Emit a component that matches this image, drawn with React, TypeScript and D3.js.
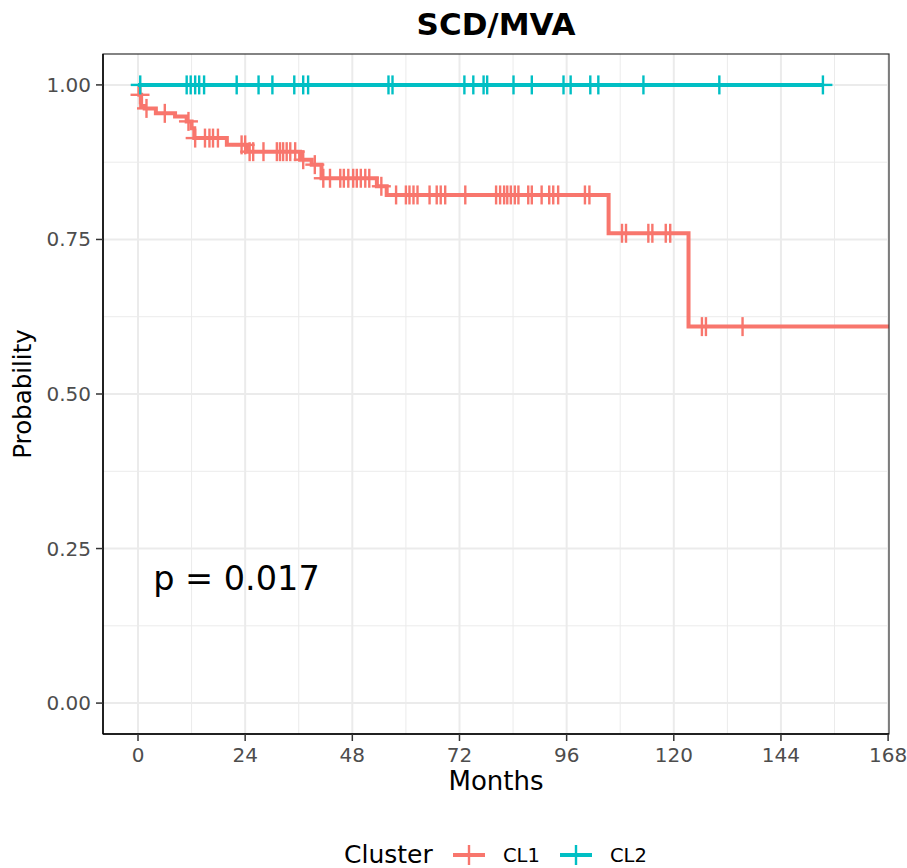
import React from "react";
import * as d3 from "d3";

// Kaplan–Meier step data: event times (months) and survival level after each event
const cl1EventTimes = [0.3, 0.7, 1.5, 4.0, 8.3, 10.9, 12.0, 12.6, 19.9, 24.4, 36.3, 38.9, 41.1, 53.5, 55.7, 105.4, 123.3];
const cl1Levels = [0.984, 0.966, 0.962, 0.954, 0.949, 0.941, 0.930, 0.914, 0.903, 0.892, 0.879, 0.871, 0.849, 0.836, 0.822, 0.760, 0.609];
const cl1Censored = [
  0.45, 1.9, 6.0, 11.3, 12.8, 15.0, 16.0, 16.8, 17.9, 23.2, 24.0, 25.0, 25.8, 28.1,
  31.1, 31.8, 32.5, 33.3, 34.1, 35.2, 37.0, 39.6, 41.5, 43.0, 45.3, 46.1, 47.1, 48.2,
  49.0, 49.9, 50.9, 51.8, 54.5, 57.8, 60.0, 60.8, 61.7, 62.6, 65.3, 66.9, 67.8, 68.8,
  73.3, 80.2, 81.1, 82.0, 82.7, 83.5, 84.4, 85.2, 87.4, 88.2, 90.4, 92.1, 93.0, 94.1,
  100.1, 101.1, 108.4, 109.3, 114.3, 115.2, 118.2, 119.2, 126.3, 127.2, 135.4,
];
const cl1LastTime = 172;

const cl2EventTimes: number[] = [];
const cl2Levels: number[] = [];
const cl2Censored = [
  0.5, 10.9, 11.8, 12.8, 13.7, 14.8, 22.1, 27.0, 30.1, 35.0, 37.0, 38.1, 56.1, 57.0,
  73.1, 75.1, 77.4, 78.2, 84.1, 88.2, 95.3, 96.9, 101.3, 103.1, 113.2, 130.2, 153.4,
];
const cl2LastTime = 153.4;

const xTicks = [0, 24, 48, 72, 96, 120, 144, 168];
const yTicks = [0, 0.25, 0.5, 0.75, 1.0];
const clusterNames = ["CL1", "CL2"];
const clusterColors = ["#F8766D", "#00BFC4"];

const W = 907;
const H = 868;
const panel = { left: 103, right: 889, top: 54, bottom: 734 };
const FONT = "DejaVu Sans, sans-serif";

const x = d3.scaleLinear().domain([-7.84, 168.2]).range([panel.left, panel.right]);
const y = d3.scaleLinear().domain([-0.05, 1.05]).range([panel.bottom, panel.top]);

type Series = { times: number[]; levels: number[]; censored: number[]; last: number; color: string };

const series: Series[] = [
  { times: cl1EventTimes, levels: cl1Levels, censored: cl1Censored, last: cl1LastTime, color: clusterColors[0] },
  { times: cl2EventTimes, levels: cl2Levels, censored: cl2Censored, last: cl2LastTime, color: clusterColors[1] },
];

function survivalAt(s: Series, t: number): number {
  let v = 1;
  s.times.forEach((et, i) => {
    if (et <= t) v = s.levels[i];
  });
  return v;
}

const stepLine = d3
  .line<[number, number]>()
  .x((d) => x(d[0]))
  .y((d) => y(d[1]))
  .curve(d3.curveStepAfter);

function pathFor(s: Series): string {
  const pts: [number, number][] = [[0, 1]];
  s.times.forEach((t, i) => pts.push([t, s.levels[i]]));
  pts.push([s.last, survivalAt(s, s.last)]);
  return stepLine(pts) || "";
}

const minorX = xTicks.slice(0, -1).map((t) => t + 12);
const minorY = yTicks.slice(0, -1).map((t) => t + 0.125);

const CROSS = 9.5;

function Cross({ cx, cy, color }: { cx: number; cy: number; color: string }) {
  return (
    <g stroke={color} strokeWidth={2.4}>
      <line x1={cx - CROSS} x2={cx + CROSS} y1={cy} y2={cy} />
      <line x1={cx} x2={cx} y1={cy - CROSS} y2={cy + CROSS} />
    </g>
  );
}

export default function App() {
  return (
    <svg width={W} height={H} style={{ display: "block", position: "absolute", left: 0, top: 0 }} fontFamily={FONT}>
      <rect width={W} height={H} fill="#ffffff" />
      <defs>
        <clipPath id="panel-clip">
          <rect x={panel.left} y={panel.top} width={panel.right - panel.left} height={panel.bottom - panel.top} />
        </clipPath>
      </defs>

      {/* grid */}
      {minorX.map((t) => (
        <line key={"mx" + t} x1={x(t)} x2={x(t)} y1={panel.top} y2={panel.bottom} stroke="#ebebeb" strokeWidth={1} />
      ))}
      {minorY.map((t) => (
        <line key={"my" + t} x1={panel.left} x2={panel.right} y1={y(t)} y2={y(t)} stroke="#ebebeb" strokeWidth={1} />
      ))}
      {xTicks.map((t) => (
        <line key={"gx" + t} x1={x(t)} x2={x(t)} y1={panel.top} y2={panel.bottom} stroke="#ebebeb" strokeWidth={2} />
      ))}
      {yTicks.map((t) => (
        <line key={"gy" + t} x1={panel.left} x2={panel.right} y1={y(t)} y2={y(t)} stroke="#ebebeb" strokeWidth={2} />
      ))}

      {/* survival curves */}
      <g clipPath="url(#panel-clip)">
        {series.map((s, i) => (
          <g key={i}>
            <path d={pathFor(s)} fill="none" stroke={s.color} strokeWidth={4} />
            {s.censored.map((t, j) => (
              <Cross key={j} cx={x(t)} cy={y(survivalAt(s, t))} color={s.color} />
            ))}
          </g>
        ))}
      </g>

      {/* panel border and axes */}
      <rect
        x={panel.left}
        y={panel.top}
        width={panel.right - panel.left}
        height={panel.bottom - panel.top}
        fill="none"
        stroke="#333333"
        strokeWidth={1.2}
      />
      <line x1={panel.left} x2={panel.left} y1={panel.top} y2={panel.bottom} stroke="#000" strokeWidth={1.5} />
      <line x1={panel.left} x2={panel.right} y1={panel.bottom} y2={panel.bottom} stroke="#000" strokeWidth={1.5} />

      {xTicks.map((t) => (
        <g key={"xt" + t}>
          <line x1={x(t)} x2={x(t)} y1={panel.bottom} y2={panel.bottom + 7} stroke="#333" strokeWidth={1.5} />
          <text x={x(t)} y={panel.bottom + 28} textAnchor="middle" fontSize={20} fill="#4d4d4d">
            {t}
          </text>
        </g>
      ))}
      {yTicks.map((t) => (
        <g key={"yt" + t}>
          <line x1={panel.left - 7} x2={panel.left} y1={y(t)} y2={y(t)} stroke="#333" strokeWidth={1.5} />
          <text x={panel.left - 12} y={y(t)} dy="0.35em" textAnchor="end" fontSize={20} fill="#4d4d4d">
            {t.toFixed(2)}
          </text>
        </g>
      ))}

      {/* titles */}
      <text x={(panel.left + panel.right) / 2} y={35} textAnchor="middle" fontSize={31} fontWeight="bold" fill="#000">
        SCD/MVA
      </text>
      <text x={(panel.left + panel.right) / 2} y={790} textAnchor="middle" fontSize={26} fill="#000">
        Months
      </text>
      <text
        transform={`translate(31, ${(panel.top + panel.bottom) / 2}) rotate(-90)`}
        textAnchor="middle"
        fontSize={24.5}
        fill="#000"
      >
        Probability
      </text>

      {/* p-value annotation */}
      <text x={x(3.4)} y={y(0.21) + 17} fontSize={33.5} fill="#000">
        p = 0.017
      </text>

      {/* legend */}
      <g>
        <text x={344} y={863} fontSize={25} fill="#000">
          Cluster
        </text>
        {clusterNames.map((name, i) => {
          const kx = 453 + i * 107;
          return (
            <g key={name}>
              <line x1={kx} x2={kx + 32} y1={855} y2={855} stroke={clusterColors[i]} strokeWidth={4} />
              <line x1={kx + 16} x2={kx + 16} y1={845} y2={865} stroke={clusterColors[i]} strokeWidth={2.4} />
              <text x={kx + 50} y={862} fontSize={19.5} fill="#000">
                {name}
              </text>
            </g>
          );
        })}
      </g>
    </svg>
  );
}
